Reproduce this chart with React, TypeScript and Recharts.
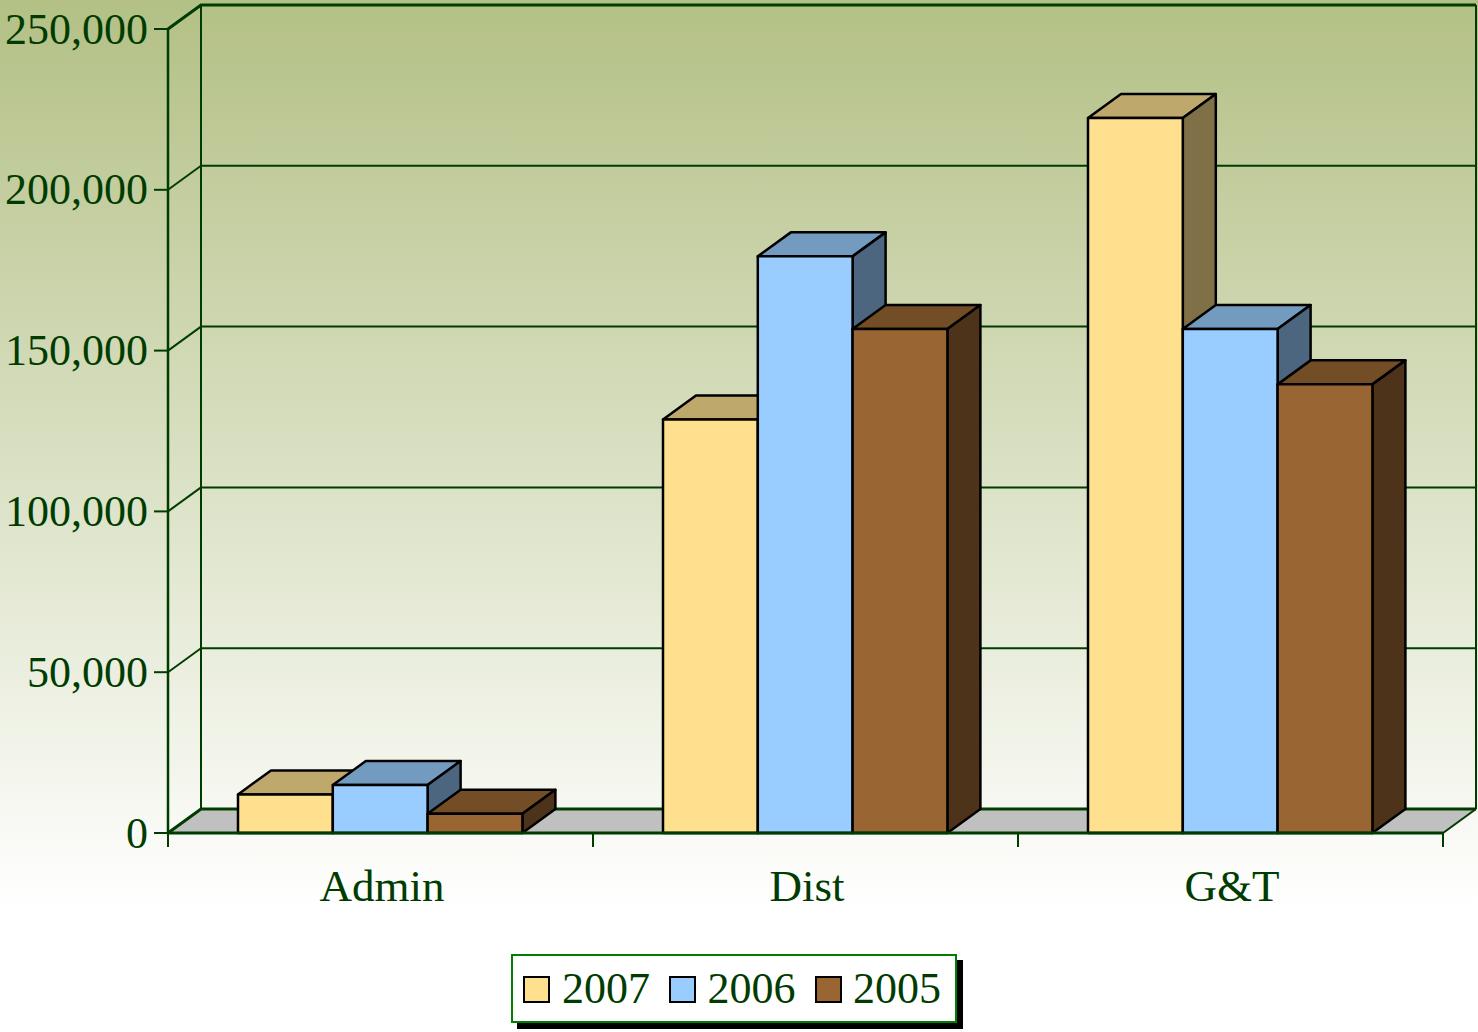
import {
  BarChart,
  Bar,
  XAxis,
  YAxis,
  CartesianGrid,
  Legend,
  usePlotArea,
} from 'recharts'

const categories = ['Admin', 'Dist', 'G&T']
const values2007 = [12000, 128600, 222300]
const values2006 = [14900, 179300, 156700]
const values2005 = [6000, 156700, 139500]
const yTicks = [0, 50000, 100000, 150000, 200000, 250000]

const chartData = categories.map((name, i) => ({
  name,
  y2007: values2007[i],
  y2006: values2006[i],
  y2005: values2005[i],
}))

const DEPTH_X = 33
const DEPTH_Y = 24
const INK = '#003c00'
const FONT = '"Liberation Serif", serif'

const palette: Record<string, { top: string; side: string }> = {
  '#ffe08f': { top: '#bfa86b', side: '#807048' },
  '#99ccff': { top: '#739abf', side: '#4d6680' },
  '#996633': { top: '#734d26', side: '#4d331a' },
}

function Box3D(props: any) {
  const { x, y, width, height, fill } = props
  const shades = palette[fill]
  const r = x + width
  const b = y + height
  return (
    <g stroke="#000" strokeWidth={2.5} strokeLinejoin="round">
      <polygon
        points={`${x},${y} ${x + DEPTH_X},${y - DEPTH_Y} ${r + DEPTH_X},${y - DEPTH_Y} ${r},${y}`}
        fill={shades.top}
      />
      <polygon
        points={`${r},${y} ${r + DEPTH_X},${y - DEPTH_Y} ${r + DEPTH_X},${b - DEPTH_Y} ${r},${b}`}
        fill={shades.side}
      />
      <rect x={x} y={y} width={width} height={height} fill={fill} />
    </g>
  )
}

// floor, side walls, heavy edges and the category tick marks
function Frame() {
  const plot = usePlotArea()
  if (!plot) return null
  const { x, y, width, height } = plot
  const r = x + width
  const b = y + height
  const step = width / categories.length
  const marks = [0, 1, 2, 3].map((i) => x + i * step)
  return (
    <g>
      <polygon
        points={`${x},${b} ${x + DEPTH_X},${b - DEPTH_Y} ${r + DEPTH_X},${b - DEPTH_Y} ${r},${b}`}
        fill="#c0c0c0"
      />
      <line x1={x} y1={y} x2={x} y2={b} stroke={INK} strokeWidth={2.5} />
      <line x1={x + DEPTH_X} y1={y - DEPTH_Y} x2={x + DEPTH_X} y2={b - DEPTH_Y} stroke={INK} strokeWidth={2} />
      <line x1={r + DEPTH_X} y1={y - DEPTH_Y} x2={r + DEPTH_X} y2={b - DEPTH_Y} stroke={INK} strokeWidth={2} />
      <line x1={r} y1={b} x2={r + DEPTH_X} y2={b - DEPTH_Y} stroke={INK} strokeWidth={2} />
      <polyline
        points={`${x},${y} ${x + DEPTH_X},${y - DEPTH_Y} ${r + DEPTH_X},${y - DEPTH_Y}`}
        fill="none"
        stroke={INK}
        strokeWidth={3}
      />
      <polyline
        points={`${x},${b} ${x + DEPTH_X},${b - DEPTH_Y} ${r + DEPTH_X},${b - DEPTH_Y}`}
        fill="none"
        stroke={INK}
        strokeWidth={3}
      />
      {marks.map((m) => (
        <line key={m} x1={m} y1={b} x2={m} y2={b + 14} stroke={INK} strokeWidth={2} />
      ))}
    </g>
  )
}

function GridLine(props: any) {
  const { x1, x2, y1, index } = props
  return (
    <g key={index} stroke={INK} fill="none" strokeWidth={2}>
      <line x1={x1} y1={y1} x2={x1 + DEPTH_X} y2={y1 - DEPTH_Y} />
      <line x1={x1 + DEPTH_X} y1={y1 - DEPTH_Y} x2={x2 + DEPTH_X} y2={y1 - DEPTH_Y} />
    </g>
  )
}

function LegendBox({ payload }: any) {
  return (
    <div
      style={{
        boxSizing: 'border-box',
        width: 446,
        height: 69,
        background: '#fff',
        border: '2px solid #008000',
        boxShadow: '6px 6px 0 #000',
        position: 'relative',
        fontFamily: FONT,
        fontSize: 44,
        color: INK,
      }}
    >
      {(payload || []).map((item: any, i: number) => (
        <div key={item.value}>
          <span
            style={{
              position: 'absolute',
              boxSizing: 'border-box',
              left: 10 + i * 146,
              top: 20,
              width: 27,
              height: 27,
              background: item.color,
              border: '2px solid #000',
            }}
          />
          <span style={{ position: 'absolute', left: 49 + i * 145.5, top: 8, lineHeight: '50px' }}>
            {item.value}
          </span>
        </div>
      ))}
    </div>
  )
}

export default function App() {
  return (
    <div
      style={{
        position: 'absolute',
        left: 0,
        top: 0,
        width: 1478,
        height: 1032,
        background: 'linear-gradient(180deg, #b3c085 0%, #ffffff 88%)',
      }}
    >
      <BarChart
        width={1478}
        height={1032}
        data={chartData}
        barSize={94.8}
        barGap={0}
        margin={{ top: 29, right: 35, bottom: 119, left: 0 }}
      >
        <Frame />
        <CartesianGrid vertical={false} horizontal={GridLine as any} />
        <XAxis
          dataKey="name"
          height={80}
          tickLine={false}
          axisLine={{ stroke: INK, strokeWidth: 3 }}
          tickMargin={30}
          tick={{ fill: INK, fontSize: 45, fontFamily: FONT, dx: 1.5 }}
          interval={0}
        />
        <YAxis
          width={168}
          domain={[0, 250000]}
          ticks={yTicks}
          tickSize={14}
          tickMargin={6}
          axisLine={false}
          tickLine={{ stroke: INK, strokeWidth: 2 }}
          tick={{ fill: INK, fontSize: 44, fontFamily: FONT, dy: -1 }}
          tickFormatter={(v: number) => v.toLocaleString('en-US')}
        />
        <Bar dataKey="y2007" name="2007" fill="#ffe08f" shape={Box3D} isAnimationActive={false} />
        <Bar dataKey="y2006" name="2006" fill="#99ccff" shape={Box3D} isAnimationActive={false} />
        <Bar dataKey="y2005" name="2005" fill="#996633" shape={Box3D} isAnimationActive={false} />
        <Legend
          layout="horizontal"
          verticalAlign="middle"
          itemSorter={null}
          content={LegendBox as any}
          wrapperStyle={{ left: 511, top: 954, width: 446, height: 69 }}
        />
      </BarChart>
    </div>
  )
}
